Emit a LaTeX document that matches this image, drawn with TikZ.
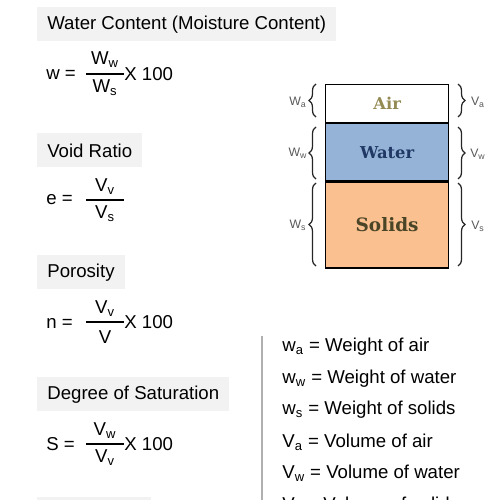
\documentclass[tikz,border=0pt]{standalone}
\usepackage{fontspec}
\setmainfont{Liberation Sans}
\newfontfamily\phaseserif{DejaVu Serif}
\usetikzlibrary{decorations.pathreplacing}
\definecolor{headgray}{HTML}{F1F2F1}
\definecolor{waterblue}{HTML}{95B3D7}
\definecolor{solidorange}{HTML}{FAC090}
\definecolor{airtext}{HTML}{948A54}
\definecolor{watertext}{HTML}{1F3864}
\definecolor{solidtext}{HTML}{4A4527}
\definecolor{labelgray}{HTML}{595959}
\definecolor{rulegray}{HTML}{B0B0B0}
\newcommand{\sbs}[1]{\textsubscript{#1}}

\begin{document}
\begin{tikzpicture}[x=0.02cm, y=-0.02cm,
    every node/.style={font=\fontsize{10.6}{13}\selectfont, inner sep=0pt},
    headbox/.style={fill=headgray, anchor=north west, inner xsep=0.2cm,
                 minimum height=0.68cm},
    fracbar/.style={line width=1.1pt},
    phase/.style={draw=black, line width=0.7pt, minimum width=2.46cm,
                 anchor=north west, font=\phaseserif\bfseries\fontsize{9.3}{11}\selectfont},
    brace/.style={decorate, decoration={brace, amplitude=4pt, aspect=0.5},
                 draw=black!85, line width=0.7pt},
    sidelabel/.style={text=labelgray, font=\fontsize{7}{8}\selectfont},
    legend/.style={anchor=west},
  ]
  \useasboundingbox (0,0) rectangle (500,500);
  \clip (0,0) rectangle (500,500);

  % water content
  \node[headbox] (hwc) at (37,7) {Water Content (Moisture Content)};
  \node[anchor=west] (wlhs) at (46,75) {w =};
  \node (wnum) at (105,60) {W\sbs{w}};
  \node (wden) at (105,88) {W\sbs{s}};
  \draw[fracbar] (86,74) -- (124,74);
  \node[anchor=west] (wx) at (124,74) {X 100};

  % void ratio
  \node[headbox] (hvr) at (37,133) {Void Ratio};
  \node[anchor=west] (elhs) at (46,200) {e =};
  \node (enum) at (105,187) {V\sbs{v}};
  \node (eden) at (105,214) {V\sbs{s}};
  \draw[fracbar] (86,200) -- (124,200);

  % porosity
  \node[headbox] (hpo) at (37,255) {Porosity};
  \node[anchor=west] (nlhs) at (46,323) {n =};
  \node (nnum) at (105,309) {V\sbs{v}};
  \node (nden) at (105,337) {V};
  \draw[fracbar] (86,322) -- (124,322);
  \node[anchor=west] (nx) at (124,322) {X 100};

  % degree of saturation
  \node[headbox] (hds) at (37,377) {Degree of Saturation};
  \node[anchor=west] (slhs) at (46,444) {S =};
  \node (snum) at (105,431) {V\sbs{w}};
  \node (sden) at (105,458) {V\sbs{v}};
  \draw[fracbar] (86,444) -- (124,444);
  \node[anchor=west] (sx) at (124,444) {X 100};

  \fill[headgray] (37,497) rectangle (151,530);

  % phase diagram
  \node[phase, fill=white, minimum height=0.76cm, text=airtext] (air) at (325,84) {Air};
  \node[phase, fill=waterblue, minimum height=1.14cm, text=watertext,
        anchor=north] (water) at (air.south) {Water};
  \node[phase, fill=solidorange, minimum height=1.72cm, text=solidtext,
        anchor=north, font=\phaseserif\bfseries\fontsize{10.5}{12}\selectfont] (solids) at (water.south) {Solids};

  \draw[brace] (316,117) -- (316,84);
  \draw[brace] (316,179) -- (316,127);
  \draw[brace] (316,266) -- (316,183);
  \draw[brace] (458,84) -- (458,117);
  \draw[brace] (458,127) -- (458,179);
  \draw[brace] (458,183) -- (458,266);

  \node[sidelabel] (lwa) at (298,102) {W\sbs{a}};
  \node[sidelabel] (lww) at (298,153) {W\sbs{w}};
  \node[sidelabel] (lws) at (298,225) {W\sbs{s}};
  \node[sidelabel] (lva) at (478,102) {V\sbs{a}};
  \node[sidelabel] (lvw) at (478,154) {V\sbs{w}};
  \node[sidelabel] (lvs) at (478,226) {V\sbs{s}};

  % legend
  \draw[rulegray, line width=0.7pt] (262,336) -- (262,510);
  \node[legend] (ka) at (282,347) {w\sbs{a} = Weight of air};
  \node[legend] (kw) at (282,379) {w\sbs{w} = Weight of water};
  \node[legend] (ks) at (282,410) {w\sbs{s} = Weight of solids};
  \node[legend] (kva) at (282,442) {V\sbs{a} = Volume of air};
  \node[legend] (kvw) at (282,473) {V\sbs{w} = Volume of water};
  \node[legend] (kvs) at (282,505) {V\sbs{s} = Volume of solids};
\end{tikzpicture}
\end{document}
